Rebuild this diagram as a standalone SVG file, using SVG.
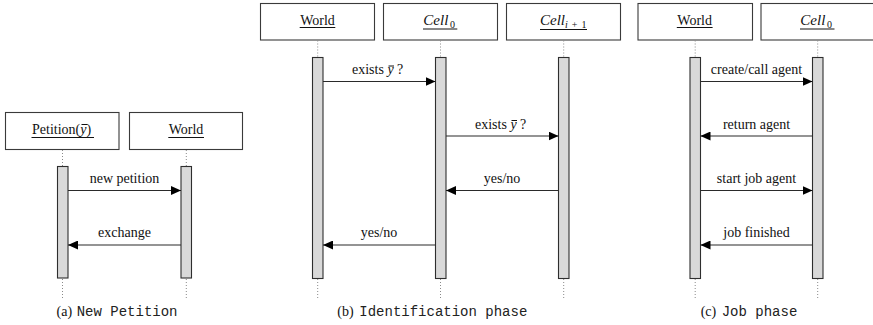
<svg xmlns="http://www.w3.org/2000/svg" width="873" height="325" viewBox="0 0 873 325">
  <style>
    .box { fill: #ffffff; stroke: #3a3a3a; stroke-width: 1.1; }
    .bar { fill: #d9d9d9; stroke: #2e2e2e; stroke-width: 1.1; }
    .life { stroke: #8a8a8a; stroke-width: 1; stroke-dasharray: 1 2; fill: none; }
    .uline { stroke: #111; stroke-width: 1; }
    .msg { stroke: #2a2a2a; stroke-width: 1.1; fill: none; marker-end: url(#arrow); }
  </style>
  <defs>
    <marker id="arrow" markerUnits="userSpaceOnUse" markerWidth="10" markerHeight="9" refX="10" refY="4.5" orient="auto">
      <path d="M0,0 L10,4.5 L0,9 Z" fill="#000"/>
    </marker>
  </defs>

  <rect width="873" height="325" fill="#ffffff"/>

  <!-- (a) New Petition -->
  <g id="a-petition">
    <rect class="box" x="5.5" y="112.5" width="113.5" height="37"/>
    <text x="32" y="133.5" font-family="Liberation Serif" font-size="14" fill="#111">Petition(<tspan font-style="italic">y</tspan>)</text>
    <line class="uline" x1="81.5" y1="124.5" x2="87.5" y2="124.5"/>
    <line class="uline" x1="31.5" y1="137.5" x2="94" y2="137.5"/>
    <line class="life" x1="62.5" y1="150" x2="62.5" y2="166.5"/>
    <rect class="bar" x="57.5" y="166.5" width="10.5" height="111.5"/>
    <line class="life" x1="62.5" y1="279" x2="62.5" y2="298"/>
  </g>
  <g id="a-world">
    <rect class="box" x="129.5" y="112.5" width="113" height="37"/>
    <text x="186" y="133.5" font-family="Liberation Serif" font-size="14" fill="#111" text-anchor="middle">World</text>
    <line class="uline" x1="168.3" y1="137.5" x2="204" y2="137.5"/>
    <line class="life" x1="186.3" y1="150" x2="186.3" y2="166.5"/>
    <rect class="bar" x="181" y="166.5" width="10.5" height="111.5"/>
    <line class="life" x1="186.3" y1="279" x2="186.3" y2="298"/>
  </g>

  <!-- (b) Identification phase -->
  <g id="b-world">
    <rect class="box" x="260.5" y="3.5" width="114" height="36.5"/>
    <text x="317.5" y="25" font-family="Liberation Serif" font-size="14" fill="#111" text-anchor="middle">World</text>
    <line class="uline" x1="299.7" y1="27.5" x2="335.3" y2="27.5"/>
    <line class="life" x1="317.7" y1="40.5" x2="317.7" y2="57.5"/>
    <rect class="bar" x="312.5" y="57.5" width="10.5" height="221"/>
    <line class="life" x1="317.7" y1="279" x2="317.7" y2="298"/>
  </g>
  <g id="b-cell0">
    <rect class="box" x="383.5" y="3.5" width="114" height="36.5"/>
    <text x="423.3" y="25" font-family="Liberation Serif" font-size="15" font-style="italic" fill="#111">Cell</text>
    <text x="450" y="28" font-family="Liberation Serif" font-size="10" fill="#111">0</text>
    <line class="uline" x1="423" y1="29" x2="457.3" y2="29"/>
    <line class="life" x1="440.5" y1="40.5" x2="440.5" y2="57.5"/>
    <rect class="bar" x="435.5" y="57.5" width="10.5" height="221"/>
    <line class="life" x1="440.5" y1="279" x2="440.5" y2="298"/>
  </g>
  <g id="b-cellnext">
    <rect class="box" x="506.5" y="3.5" width="114" height="36.5"/>
    <text x="540" y="25" font-family="Liberation Serif" font-size="15" font-style="italic" fill="#111">Cell</text>
    <text x="565" y="28" font-family="Liberation Serif" font-size="10" fill="#111" textLength="21.5" lengthAdjust="spacing"><tspan font-style="italic">i</tspan>+1</text>
    <line class="uline" x1="540" y1="29.5" x2="587" y2="29.5"/>
    <line class="life" x1="563.7" y1="40.5" x2="563.7" y2="57.5"/>
    <rect class="bar" x="558.5" y="57.5" width="10.5" height="221"/>
    <line class="life" x1="563.7" y1="279" x2="563.7" y2="298"/>
  </g>

  <!-- (c) Job phase -->
  <g id="c-world">
    <rect class="box" x="638" y="3.5" width="114.5" height="36.5"/>
    <text x="694.7" y="25" font-family="Liberation Serif" font-size="14" fill="#111" text-anchor="middle">World</text>
    <line class="uline" x1="676.8" y1="27.5" x2="712.6" y2="27.5"/>
    <line class="life" x1="695.2" y1="40.5" x2="695.2" y2="57.5"/>
    <rect class="bar" x="690" y="57.5" width="10.5" height="221"/>
    <line class="life" x1="695.2" y1="279" x2="695.2" y2="298"/>
  </g>
  <g id="c-cell0">
    <rect class="box" x="761" y="3.5" width="114" height="36.5"/>
    <text x="800.3" y="25" font-family="Liberation Serif" font-size="15" font-style="italic" fill="#111">Cell</text>
    <text x="827" y="28" font-family="Liberation Serif" font-size="10" fill="#111">0</text>
    <line class="uline" x1="800" y1="29" x2="834.5" y2="29"/>
    <line class="life" x1="817.7" y1="40.5" x2="817.7" y2="57.5"/>
    <rect class="bar" x="812.5" y="57.5" width="10.5" height="221"/>
    <line class="life" x1="817.7" y1="279" x2="817.7" y2="298"/>
  </g>

  <!-- messages -->
  <g id="connectors">
    <line class="msg" x1="68" y1="190.5" x2="181" y2="190.5"/>
    <line class="msg" x1="181" y1="245" x2="68" y2="245"/>

    <line class="msg" x1="323" y1="81.5" x2="435.5" y2="81.5"/>
    <line class="msg" x1="446" y1="136" x2="558.5" y2="136"/>
    <line class="msg" x1="558.5" y1="190.5" x2="446" y2="190.5"/>
    <line class="msg" x1="435.5" y1="245" x2="323" y2="245"/>

    <line class="msg" x1="700.5" y1="81.5" x2="812.5" y2="81.5"/>
    <line class="msg" x1="812.5" y1="136" x2="700.5" y2="136"/>
    <line class="msg" x1="700.5" y1="190.5" x2="812.5" y2="190.5"/>
    <line class="msg" x1="812.5" y1="245" x2="700.5" y2="245"/>
  </g>

  <!-- message labels -->
  <g id="labels" font-family="Liberation Serif" font-size="14" fill="#111">
    <text x="124.5" y="183" text-anchor="middle">new petition</text>
    <text x="124.5" y="237" text-anchor="middle">exchange</text>

    <text x="352" y="74">exists <tspan font-style="italic">y</tspan> ?</text>
    <line class="uline" x1="388.5" y1="66" x2="394" y2="66"/>
    <text x="475" y="128.5">exists <tspan font-style="italic">y</tspan> ?</text>
    <line class="uline" x1="511.5" y1="120.5" x2="517" y2="120.5"/>
    <text x="502" y="183" text-anchor="middle">yes/no</text>
    <text x="379" y="237" text-anchor="middle">yes/no</text>

    <text x="756.5" y="74" text-anchor="middle">create/call agent</text>
    <text x="756.5" y="128.5" text-anchor="middle">return agent</text>
    <text x="756.5" y="183" text-anchor="middle">start job agent</text>
    <text x="756.5" y="237" text-anchor="middle">job finished</text>
  </g>

  <!-- captions -->
  <g id="captions" font-size="14">
    <text x="56.5" y="316" font-family="Liberation Serif" fill="#111">(a)</text>
    <text x="76.7" y="316" font-family="Liberation Mono" fill="#222">New Petition</text>
    <text x="337.3" y="315.5" font-family="Liberation Serif" fill="#111">(b)</text>
    <text x="359.3" y="315.5" font-family="Liberation Mono" fill="#222">Identification phase</text>
    <text x="700.7" y="316" font-family="Liberation Serif" fill="#111">(c)</text>
    <text x="721.7" y="316" font-family="Liberation Mono" fill="#222">Job phase</text>
  </g>
</svg>
